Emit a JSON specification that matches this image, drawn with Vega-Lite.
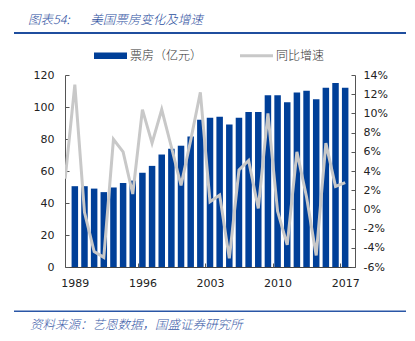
{
  "$schema": "https://vega.github.io/schema/vega-lite/v6.json",
  "padding": {"left": 14, "top": 13, "right": 0, "bottom": 0},
  "background": "white",
  "bounds": "flush",
  "center": false,
  "spacing": 41,
  "config": {
    "view": {"stroke": null},
    "font": "Noto Sans CJK SC",
    "axis": {"labelFont": "DejaVu Sans", "labelFontSize": 11, "labelColor": "#222222", "domainColor": "#555555", "tickColor": "#555555", "grid": false, "title": null}
  },
  "resolve": {"scale": {"color": "independent"}, "legend": {"color": "independent"}},
  "vconcat": [
    {
      "width": 392,
      "height": 2,
      "view": {"fill": "#1F4E9E", "stroke": null},
      "title": {"text": "图表54:\u3000\u00a0\u00a0\u00a0美国票房变化及增速", "anchor": "start", "dx": 14, "offset": 6, "fontSize": 12.5, "fontStyle": "italic", "fontWeight": 300, "color": "#2B4E9E", "font": "Noto Sans CJK SC"},
      "data": {"values": []},
      "mark": "point"
    },
    {
      "bounds": "flush",
      "center": true,
      "spacing": 43.5,
      "resolve": {"scale": {"color": "independent"}, "legend": {"color": "independent"}},
      "vconcat": [
        {
          "width": 290,
          "height": 192,
          "data": {"values": [
            {"year": 1988, "boxoffice": null, "growth": 3.2},
            {"year": 1989, "boxoffice": 50.5, "growth": 13.0},
            {"year": 1990, "boxoffice": 50.5, "growth": -0.3},
            {"year": 1991, "boxoffice": 49.0, "growth": -4.4},
            {"year": 1992, "boxoffice": 46.8, "growth": -5.0},
            {"year": 1993, "boxoffice": 49.7, "growth": 7.3},
            {"year": 1994, "boxoffice": 52.5, "growth": 6.0},
            {"year": 1995, "boxoffice": 54.0, "growth": 1.6},
            {"year": 1996, "boxoffice": 58.9, "growth": 10.4},
            {"year": 1997, "boxoffice": 63.2, "growth": 6.9},
            {"year": 1998, "boxoffice": 70.3, "growth": 10.4},
            {"year": 1999, "boxoffice": 73.9, "growth": 6.5},
            {"year": 2000, "boxoffice": 75.8, "growth": 2.5},
            {"year": 2001, "boxoffice": 81.6, "growth": 7.2},
            {"year": 2002, "boxoffice": 92.1, "growth": 12.2},
            {"year": 2003, "boxoffice": 93.3, "growth": 0.8},
            {"year": 2004, "boxoffice": 93.9, "growth": 1.5},
            {"year": 2005, "boxoffice": 89.1, "growth": -5.1},
            {"year": 2006, "boxoffice": 93.3, "growth": 4.1},
            {"year": 2007, "boxoffice": 96.9, "growth": 5.1},
            {"year": 2008, "boxoffice": 96.9, "growth": 0.1},
            {"year": 2009, "boxoffice": 107.3, "growth": 10.0},
            {"year": 2010, "boxoffice": 107.3, "growth": -0.2},
            {"year": 2011, "boxoffice": 102.9, "growth": -3.7},
            {"year": 2012, "boxoffice": 109.0, "growth": 6.0},
            {"year": 2013, "boxoffice": 110.2, "growth": 1.3},
            {"year": 2014, "boxoffice": 104.8, "growth": -4.8},
            {"year": 2015, "boxoffice": 112.1, "growth": 6.9},
            {"year": 2016, "boxoffice": 115.0, "growth": 2.4},
            {"year": 2017, "boxoffice": 112.1, "growth": 2.8}
          ]},
          "layer": [
            {
              "mark": {"type": "bar", "size": 6.5},
              "encoding": {
                "x": {"field": "year", "type": "quantitative",
                  "scale": {"domain": [1988.5, 2017.5], "nice": false, "zero": false},
                  "axis": {"orient": "bottom", "values": [1989, 1996, 2003, 2010, 2017], "format": "d", "ticks": false, "labelPadding": 10, "labelFlush": false, "domainColor": "#444444"}},
                "y": {"field": "boxoffice", "type": "quantitative",
                  "scale": {"domain": [0, 120], "nice": false},
                  "axis": {"orient": "left", "values": [0, 20, 40, 60, 80, 100, 120], "tickSize": -4, "labelPadding": 15}},
                "color": {"datum": "票房（亿元）",
                  "scale": {"domain": ["票房（亿元）", "同比增速"], "range": ["#003F98", "#C8C8C8"]},
                  "legend": {"orient": "none", "legendX": 29, "legendY": -36, "direction": "horizontal", "title": null,
                    "symbolSize": 1089, "symbolType": "M-1,-0.2H1V0.2H-1Z",
                    "labelFont": "Noto Sans CJK SC", "labelFontSize": 12, "labelFontWeight": 300, "labelColor": "#333333", "labelOffset": 3,
                    "columnPadding": 37, "padding": 0,
                    "encode": {"symbols": {"update": {
                      "shape": {"signal": "datum.value === '同比增速' ? 'M-1,-0.09H1V0.09H-1Z' : 'M-1,-0.2H1V0.2H-1Z'"},
                      "fill": {"signal": "datum.value === '同比增速' ? '#C8C8C8' : '#003F98'"},
                      "strokeWidth": {"value": 0},
                      "opacity": {"value": 1}}}}}}
              }
            },
            {
              "mark": {"type": "line", "strokeWidth": 3, "clip": true},
              "encoding": {
                "x": {"field": "year", "type": "quantitative",
                  "axis": {"orient": "bottom", "values": [1995.5, 2002.5, 2009.5, 2016.5], "labels": false, "domain": false, "ticks": true, "tickSize": -4}},
                "y": {"field": "growth", "type": "quantitative",
                  "scale": {"domain": [-6, 14], "nice": false},
                  "axis": {"orient": "right", "values": [-6, -4, -2, 0, 2, 4, 6, 8, 10, 12, 14], "labelExpr": "datum.value + '%'", "tickSize": -4, "labelPadding": 12}},
                "color": {"datum": "同比增速"}
              }
            }
          ],
          "resolve": {"scale": {"y": "independent"}, "axis": {"x": "independent"}}
        },
        {
          "width": 392,
          "height": 1.5,
          "view": {"fill": "#2A56A6", "stroke": null},
          "title": {"text": "资料来源：艺恩数据，国盛证券研究所", "orient": "bottom", "anchor": "start", "dx": 16, "offset": 7, "fontSize": 12.5, "fontStyle": "italic", "fontWeight": 300, "color": "#3A5BA8", "font": "Noto Sans CJK SC"},
          "data": {"values": []},
          "mark": "point"
        }
      ]
    }
  ]
}
